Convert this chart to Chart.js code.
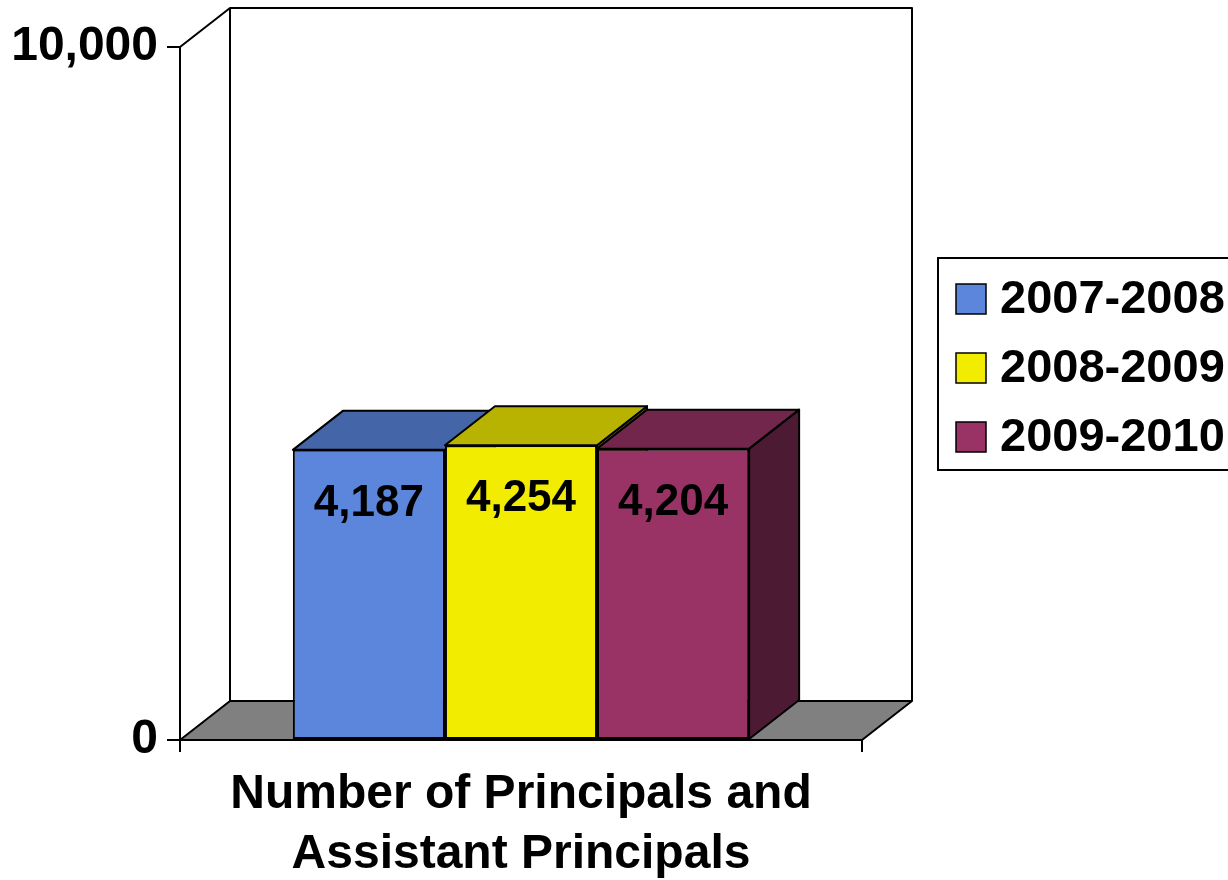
<!DOCTYPE html>
<html>
<head>
<meta charset="utf-8">
<script src="https://cdn.jsdelivr.net/npm/chart.js@4.4.1/dist/chart.umd.min.js"></script>
<style>
  html, body { margin: 0; padding: 0; background: #fff; }
  #wrap { width: 1228px; height: 880px; }
</style>
</head>
<body>
<div id="wrap"><canvas id="chart" width="1228" height="880"></canvas></div>
<script>
const categories = ['Number of Principals and Assistant Principals'];
const seriesNames = ['2007-2008', '2008-2009', '2009-2010'];
const values2007 = [4187];
const values2008 = [4254];
const values2009 = [4204];
const yTicks = [0, 10000];

const FONT = '"Liberation Sans", Arial, sans-serif';
const frontColors = ['#5B86DB', '#F2EC00', '#993366'];
const topColors = ['#4465A7', '#B8B300', '#72264B'];
const sideColors = ['#2E4570', '#7A7700', '#4D1A33'];
const DX = 50, DY = -39;

function poly(ctx, pts, fill) {
    ctx.beginPath();
    ctx.moveTo(pts[0][0], pts[0][1]);
    for (let i = 1; i < pts.length; i++) ctx.lineTo(pts[i][0], pts[i][1]);
    ctx.closePath();
    if (fill) { ctx.fillStyle = fill; ctx.fill(); }
    ctx.stroke();
}

// back wall, floor, then bar tops and sides (fronts come from Chart.js)
const box3d = {
    id: 'box3d',
    beforeDatasetsDraw(chart) {
        const ctx = chart.ctx;
        const a = chart.chartArea;
        ctx.save();
        ctx.strokeStyle = '#000';
        ctx.lineWidth = 2;
        ctx.lineJoin = 'round';
        // walls
        ctx.beginPath();
        ctx.moveTo(a.left, a.top);
        ctx.lineTo(a.left + DX, a.top + DY);
        ctx.lineTo(a.right + DX, a.top + DY);
        ctx.lineTo(a.right + DX, a.bottom + DY);
        ctx.moveTo(a.left + DX, a.top + DY);
        ctx.lineTo(a.left + DX, a.bottom + DY);
        ctx.stroke();
        // floor
        poly(ctx, [[a.left, a.bottom], [a.right, a.bottom],
                   [a.right + DX, a.bottom + DY], [a.left + DX, a.bottom + DY]], '#808080');
        // bars, left to right
        ctx.lineWidth = 2;
        chart.data.datasets.forEach((ds, i) => {
            chart.getDatasetMeta(i).data.forEach(bar => {
                const x0 = bar.x - bar.width / 2, x1 = bar.x + bar.width / 2;
                const yt = bar.y, yb = bar.base;
                poly(ctx, [[x1, yt], [x1 + DX, yt + DY], [x1 + DX, yb + DY], [x1, yb]], sideColors[i]);
                poly(ctx, [[x0, yt], [x1, yt], [x1 + DX, yt + DY], [x0 + DX, yt + DY]], topColors[i]);
            });
        });
        ctx.restore();
    },
    afterDatasetsDraw(chart) {
        const ctx = chart.ctx;
        ctx.save();
        ctx.fillStyle = '#000';
        ctx.font = 'bold 44px ' + FONT;
        ctx.textAlign = 'center';
        ctx.textBaseline = 'middle';
        chart.data.datasets.forEach((ds, i) => {
            chart.getDatasetMeta(i).data.forEach((bar, j) => {
                ctx.fillText(ds.data[j].toLocaleString('en-US'), bar.x, bar.y + 54);
            });
        });
        ctx.restore();
    },
    afterDraw(chart) {
        const ctx = chart.ctx;
        ctx.save();
        ctx.strokeStyle = '#000';
        ctx.lineWidth = 2;
        ctx.strokeRect(938, 258, 320, 212);
        ctx.font = 'bold 47px ' + FONT;
        ctx.textBaseline = 'middle';
        ctx.textAlign = 'left';
        chart.data.datasets.forEach((ds, i) => {
            const cy = 299 + i * 69;
            ctx.fillStyle = ds.backgroundColor;
            ctx.lineWidth = 1.5;
            ctx.fillRect(956, cy - 15, 30, 30);
            ctx.strokeRect(956, cy - 15, 30, 30);
            ctx.fillStyle = '#000';
            ctx.fillText(ds.label, 1000, cy + 1);
        });
        ctx.restore();
    }
};

const datasets = [values2007, values2008, values2009].map((vals, i) => ({
    label: seriesNames[i],
    data: vals,
    backgroundColor: frontColors[i],
    borderColor: '#000',
    borderWidth: 2,
    borderSkipped: false,
    categoryPercentage: 0.669,
    barPercentage: 1.0
}));

new Chart(document.getElementById('chart'), {
    type: 'bar',
    data: { labels: categories, datasets: datasets },
    plugins: [box3d],
    options: {
        responsive: false,
        animation: false,
        devicePixelRatio: 1,
        layout: { padding: { top: 47, right: 366, left: 0, bottom: 0 } },
        plugins: { legend: { display: false }, tooltip: { enabled: false } },
        scales: {
            x: {
                afterFit: s => { s.height = 140; },
                grid: { offset: true, drawOnChartArea: false, color: '#000', lineWidth: 2, tickLength: 12 },
                border: { display: true, color: '#000', width: 2 },
                ticks: {
                    color: '#000',
                    padding: 13,
                    maxRotation: 0,
                    font: { family: FONT, size: 48, weight: 'bold', lineHeight: 1.25 },
                    callback: () => ['Number of Principals and', 'Assistant Principals']
                }
            },
            y: {
                min: yTicks[0],
                max: yTicks[yTicks.length - 1],
                afterFit: s => { s.width = 180; },
                afterBuildTicks: s => { s.ticks = yTicks.map(v => ({ value: v })); },
                grid: { drawOnChartArea: false, color: '#000', lineWidth: 2, tickLength: 13 },
                border: { display: true, color: '#000', width: 2 },
                ticks: {
                    color: '#000',
                    padding: 9,
                    font: { family: FONT, size: 48, weight: 'bold' },
                    callback: v => v.toLocaleString('en-US')
                }
            }
        }
    }
});
</script>
</body>
</html>
